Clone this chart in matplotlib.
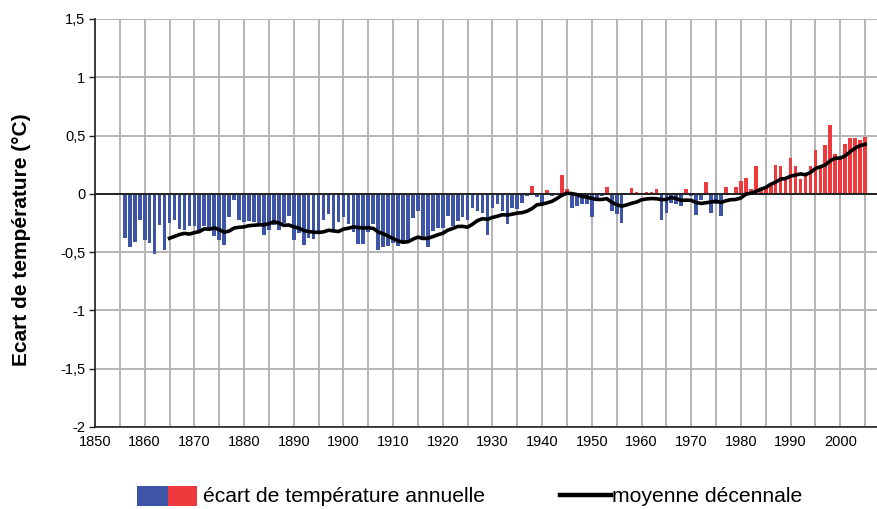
import matplotlib
matplotlib.use("Agg")
import matplotlib.pyplot as plt
import numpy as np
import pandas as pd
from matplotlib.patches import Rectangle
from matplotlib.lines import Line2D

years = list(range(1856, 2006))
anomalies = [
    -0.38, -0.46, -0.41, -0.22, -0.40, -0.42, -0.52, -0.27, -0.48, -0.25,   # 1856-1865
    -0.22, -0.30, -0.31, -0.28, -0.28, -0.33, -0.28, -0.31, -0.36, -0.40,   # 1866-1875
    -0.44, -0.20, -0.05, -0.22, -0.24, -0.23, -0.24, -0.28, -0.35, -0.31,   # 1876-1885
    -0.27, -0.31, -0.25, -0.19, -0.40, -0.34, -0.44, -0.38, -0.39, -0.34,   # 1886-1895
    -0.22, -0.17, -0.31, -0.24, -0.20, -0.26, -0.33, -0.43, -0.43, -0.33,   # 1896-1905
    -0.26, -0.48, -0.46, -0.45, -0.42, -0.45, -0.43, -0.40, -0.21, -0.15,   # 1906-1915
    -0.38, -0.46, -0.32, -0.29, -0.29, -0.19, -0.28, -0.23, -0.20, -0.22,   # 1916-1925
    -0.12, -0.15, -0.16, -0.35, -0.12, -0.09, -0.15, -0.26, -0.12, -0.13,   # 1926-1935
    -0.08, -0.02, 0.07, -0.03, -0.08, 0.03, -0.02, -0.01, 0.16, 0.04,       # 1936-1945
    -0.12, -0.10, -0.09, -0.09, -0.20, -0.05, -0.02, 0.06, -0.15, -0.17,    # 1946-1955
    -0.25, 0.01, 0.05, 0.02, -0.01, 0.02, 0.02, 0.04, -0.22, -0.16,         # 1956-1965
    -0.08, -0.09, -0.10, 0.04, -0.02, -0.18, -0.05, 0.10, -0.16, -0.09,     # 1966-1975
    -0.19, 0.06, -0.01, 0.06, 0.11, 0.14, 0.04, 0.24, 0.04, 0.05,           # 1976-1985
    0.09, 0.25, 0.24, 0.12, 0.31, 0.24, 0.13, 0.17, 0.24, 0.38,             # 1986-1995
    0.24, 0.42, 0.59, 0.34, 0.32, 0.43, 0.48, 0.48, 0.46, 0.49,             # 1996-2005
]

# decadal mean (trailing 10-year average of the annual anomalies)
decadal = pd.Series(anomalies, index=years).rolling(10).mean().dropna()

xticks = list(range(1850, 2001, 10))
yticks = [1.5, 1, 0.5, 0, -0.5, -1, -1.5, -2]
ytick_labels = ["1,5", "1", "0,5", "0", "-0,5", "-1", "-1,5", "-2"]

BLUE = "#3E55A7"
RED = "#EE3A3C"
FONT = ["Liberation Sans", "DejaVu Sans"]
plt.rcParams["font.family"] = FONT

fig = plt.figure(figsize=(8.78, 5.09), dpi=100)
ax = fig.add_axes([95 / 878, 1 - 427 / 509, (877 - 95) / 878, 408 / 509])

colors = [RED if v > 0 else BLUE for v in anomalies]
ax.bar(years, anomalies, width=0.74, color=colors, linewidth=0, zorder=2)
ax.plot(decadal.index, decadal.values, color="black", lw=2.6, zorder=3,
        solid_joinstyle="round")

ax.set_xlim(1850, 2007.4)
ax.set_ylim(-2, 1.5)

ax.set_xticks(xticks)
ax.set_xticks(list(range(1855, 2006, 10)), minor=True)
ax.set_xticklabels([str(x) for x in xticks], fontsize=10.5)
ax.set_yticks(yticks)
ax.set_yticklabels(ytick_labels, fontsize=10.5)

ax.grid(True, which="both", axis="x", color="#b4b4b4", lw=1.4, zorder=0)
ax.grid(True, which="major", axis="y", color="#b4b4b4", lw=1.4, zorder=0)
ax.axhline(0, color="#222222", lw=1.4, zorder=2.5)

ax.tick_params(axis="x", which="both", length=0, pad=6)
ax.tick_params(axis="y", length=4, width=1, direction="out", pad=3, color="#222222")

for side in ["top", "right"]:
    ax.spines[side].set_visible(False)
ax.spines["left"].set_color("#222222")
ax.spines["bottom"].set_color("#222222")
ax.spines["left"].set_linewidth(1.2)
ax.spines["bottom"].set_linewidth(1.2)

fig.text(22 / 878, 1 - 240 / 509, "Ecart de température (°C)", rotation=90,
         ha="center", va="center", fontsize=15, fontweight="bold")

# legend
H = 509.0
W = 878.0
fig.patches.append(Rectangle((137 / W, 1 - 506 / H), 31 / W, 20 / H,
                             transform=fig.transFigure, color=BLUE, lw=0))
fig.patches.append(Rectangle((168 / W, 1 - 506 / H), 29 / W, 20 / H,
                             transform=fig.transFigure, color=RED, lw=0))
fig.text(203 / W, 1 - 497 / H, "écart de température annuelle", ha="left",
         va="center", fontsize=15.2)
fig.lines.append(Line2D([560 / W, 611 / W], [1 - 495 / H, 1 - 495 / H],
                        transform=fig.transFigure, color="black", lw=3.2))
fig.text(612 / W, 1 - 497 / H, "moyenne décennale", ha="left", va="center",
         fontsize=15.2)

fig.savefig("out.png", dpi=100)
